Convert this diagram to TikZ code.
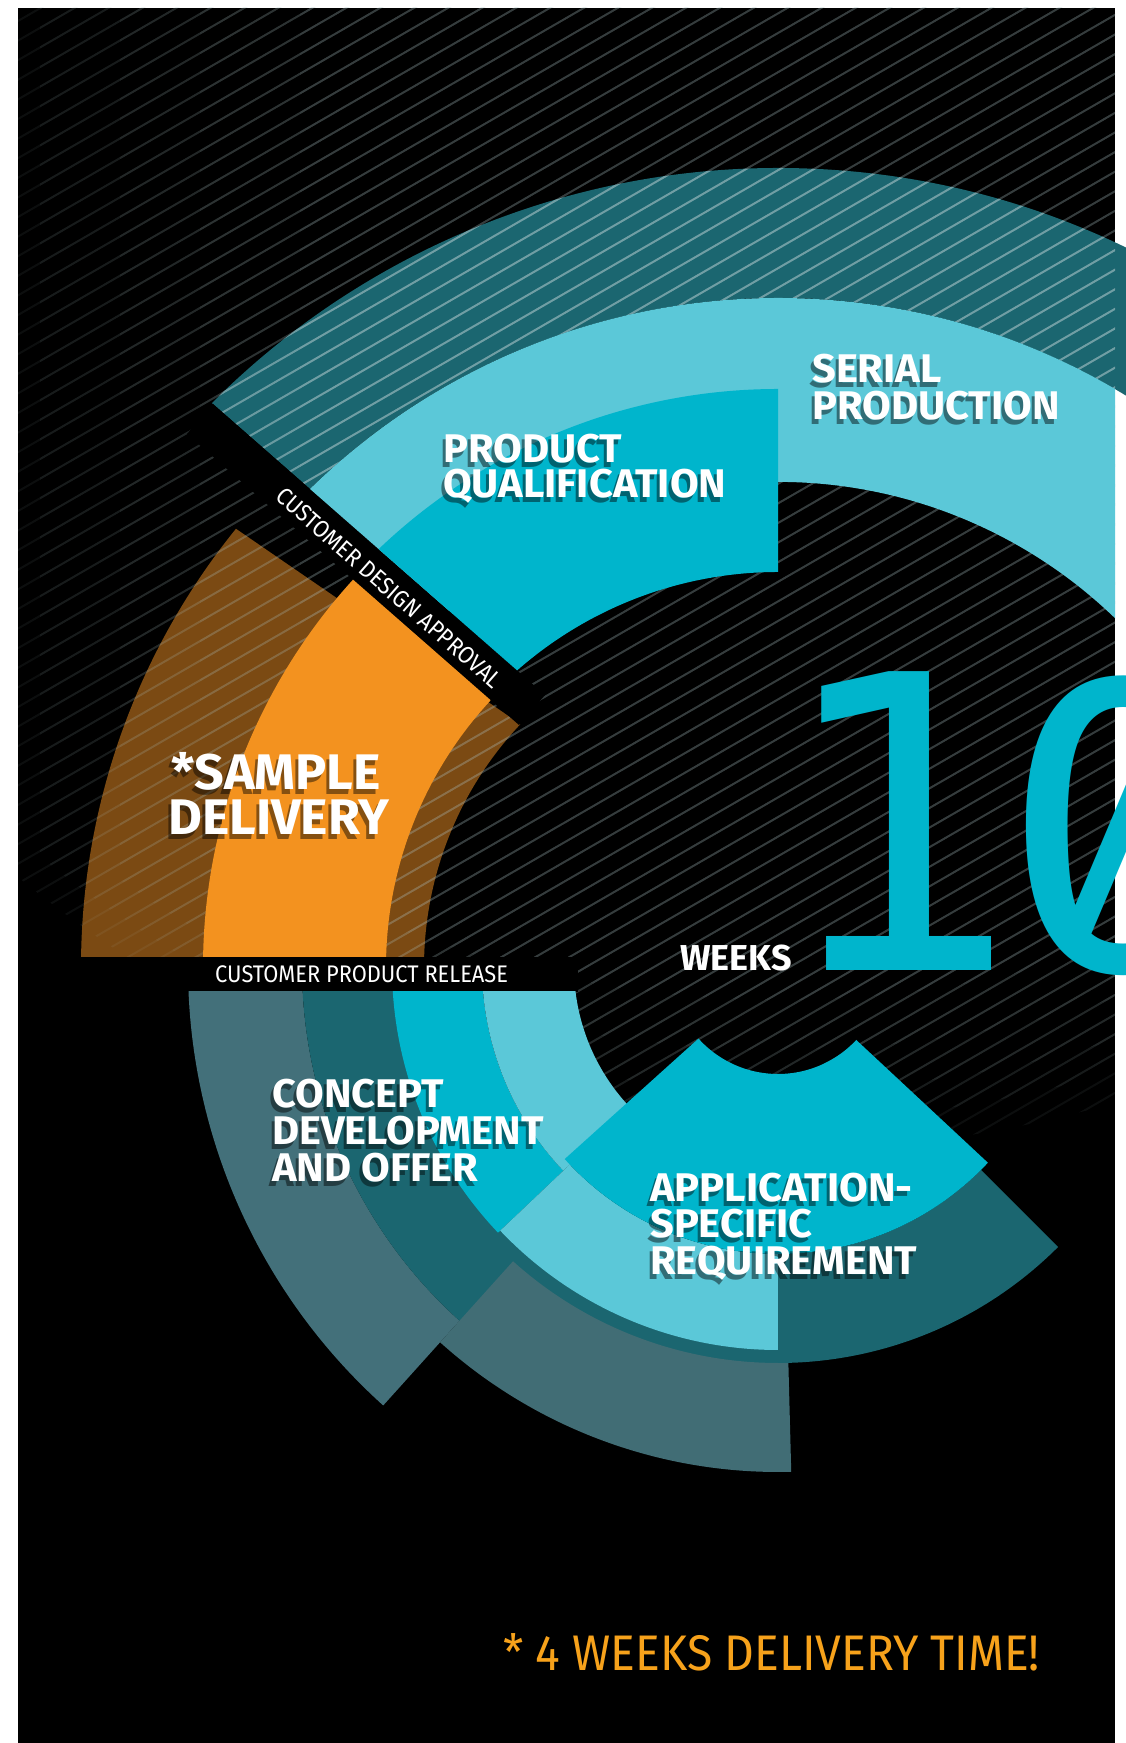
\documentclass[tikz,border=0pt]{standalone}
\usepackage{fontspec}
\setmainfont{Fira Sans}
\newfontfamily\headfont{Fira Sans}[FakeStretch=1.04]
\newfontfamily\capfont{Fira Sans}[FakeStretch=0.91]
\newfontfamily\notefont{Fira Sans}[FakeStretch=0.925]
\newfontfamily\numfont{DejaVu Sans Mono}
\newfontfamily\zerofont{Fira Sans}[Numbers=SlashedZero]
\usetikzlibrary{calc}
\definecolor{tealdk}{HTML}{1B6670}
\definecolor{cyanlt}{HTML}{5BC8D8}
\definecolor{cyanmd}{HTML}{00B5CC}
\definecolor{orngbr}{HTML}{F3921F}
\definecolor{orngdk}{HTML}{7B4A13}
\definecolor{grayteal}{HTML}{43707A}
\definecolor{graytealb}{HTML}{416D75}
\definecolor{stripec}{HTML}{B4CDD0}
\definecolor{noteor}{HTML}{F7A21B}
\newcommand\ansec[4]{(C) ++(#1:#4) arc[start angle=#1,end angle=#2,radius=#4] -- ($(C)+(#2:#3)$) arc[start angle=#2,end angle=#1,radius=#3] -- cycle}
\newcommand\stripes[1]{\foreach \i in {0,...,124}{\draw[#1] (0,-660+19.6*\i) -- (1125,-10.5+19.6*\i);}}
\newcommand\hl[5][]{\node[hd,#1,shd] (#2s) at ($(#3,#4)+(-3,-4.5)$) {#5};\node[hd,#1] (#2) at (#3,#4) {#5};}
\tikzset{
  hd/.style={font=\headfont\bfseries\fontsize{40}{40}\selectfont, text=white, inner sep=0pt, anchor=base west},
  shd/.style={text=black, text opacity=0.45},
  captxt/.style={font=\capfont\fontsize{24}{24}\selectfont, text=white, inner sep=0pt},
  stripeline/.style={stripec, line width=2pt},
}
\begin{document}
\begin{tikzpicture}[x=1pt,y=1pt]
\useasboundingbox (0,0) rectangle (1125,1743);
\coordinate (C) at (778,776);
\fill[white] (0,0) rectangle (1125,1743);
\fill[black] (18,0) rectangle (1115,1735);
% outer dark teal ring
\begin{scope}
  \clip (0,1525.6) -- (855.7,776) -- (1200,776) -- (1200,1800) -- (0,1800) -- cycle;
  \fill[tealdk] \ansec{0}{150}{669}{799};
\end{scope}
% dark orange
\begin{scope}
  \clip (0,1376.3) -- (859.3,786) -- (0,786) -- cycle;
  \fill[orngdk] \ansec{90}{185}{354}{697};
\end{scope}
% stripes, fading layers
\foreach \R/\X in {1200/-100,1170/40,1140/120,1100/200,1050/300}{
  \begin{scope}
    \clip (18,0) rectangle (1115,1735);
    \clip (780,1793) circle (\R);
    \clip (\X,0) rectangle (1200,1800);
    \stripes{stripeline, opacity=0.07}
  \end{scope}
}
\begin{scope}
  \clip (0,1525.6) -- (855.7,776) -- (1200,776) -- (1200,1800) -- (0,1800) -- cycle;
  \clip (18,0) rectangle (1115,1735);
  \clip \ansec{0}{150}{669}{799};
  \stripes{white, line width=2pt, opacity=0.22}
\end{scope}
% black bars
\fill[black] (213,1339) -- (545,1048) -- (519,1018) -- (187,1309) -- cycle;
\fill[black] (18,751) rectangle (578,786);
% light ring and product qualification
\begin{scope}
  \clip (0,1525.6) -- (855.7,776) -- (1200,776) -- (1200,1800) -- (0,1800) -- cycle;
  \clip (18,0) rectangle (1115,1735);
  \fill[cyanlt] \ansec{0}{150}{485}{669};
  \fill[cyanmd] \ansec{90}{150}{395}{578};
\end{scope}
% bright orange
\begin{scope}
  \clip (0,1472.6) -- (783.8,786) -- (0,786) -- cycle;
  \fill[orngbr] \ansec{90}{185}{392}{575};
\end{scope}
% bottom group
\begin{scope}
  \clip (18,0) rectangle (1115,751);
  \fill[grayteal] \ansec{175}{228}{476}{590};
  \fill[tealdk] \ansec{175}{271}{380}{476};
  \fill[graytealb] \ansec{228}{271.5}{396}{505};
  \fill[cyanmd] \ansec{175}{223.5}{296}{386};
  \fill[cyanlt] \ansec{175}{223.5}{204}{296};
  \fill[cyanlt] \ansec{223.5}{270}{287}{383};
  \fill[tealdk] \ansec{270}{315}{287}{396};
  \fill[cyanmd] \ansec{222}{317}{107}{287};
\end{scope}
% labels
\hl{ser}{812}{1360}{SERIAL}
\hl{pro}{812}{1323}{PRODUCTION}
\hl{pq1}{443}{1280}{PRODUCT}
\hl{pq2}{443}{1245}{QUALIFICATION}
\hl[font=\headfont\bfseries\fontsize{50}{50}\selectfont]{sd1}{171}{953}{*SAMPLE}
\hl[font=\headfont\bfseries\fontsize{50}{50}\selectfont]{sd2}{168}{908}{DELIVERY}
\hl{cd1}{272}{635}{CONCEPT}
\hl{cd2}{272}{598}{DEVELOPMENT}
\hl{cd3}{272}{561}{AND OFFER}
\hl{as1}{650}{541}{APPLICATION-}
\hl{as2}{650}{505}{SPECIFIC}
\hl{as3}{650}{468}{REQUIREMENT}
\node[captxt, anchor=base west] (cpr) at (215,760) {CUSTOMER PRODUCT RELEASE};
\node[captxt, rotate=-41.2] (cda) at (389,1155) {CUSTOMER DESIGN APPROVAL};
\node[font=\bfseries\fontsize{36}{36}\selectfont, text=white, anchor=base west, inner sep=0pt] (wk) at (680,772) {WEEKS};
\node[font=\notefont\fontsize{50}{50}\selectfont, text=noteor, anchor=base west, inner sep=0pt] (note) at (503,72) {* 4 WEEKS DELIVERY TIME!};
\node[text=cyanmd, anchor=base west, inner sep=0pt] (ten) at (772,772) {{\numfont\fontsize{410}{410}\selectfont 1}\kern-17pt{\zerofont\fontsize{434}{434}\selectfont 0}};
\end{tikzpicture}
\end{document}
